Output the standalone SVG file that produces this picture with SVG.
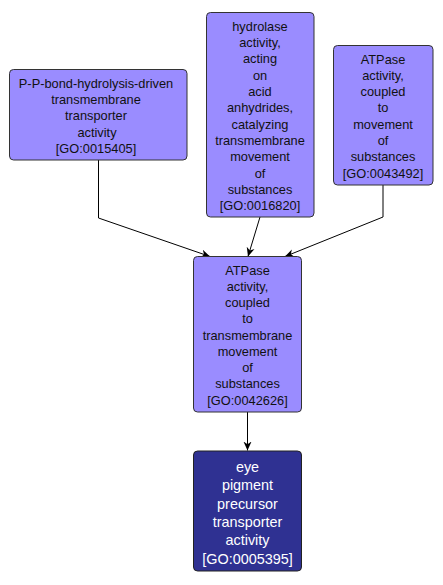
<svg xmlns="http://www.w3.org/2000/svg" width="443" height="585" viewBox="0 0 443 585">
<style>
.bg{fill:#ffffff}
.n rect{fill:#9a8cff;stroke:#333333;stroke-width:1}
.n text{font-family:"Liberation Sans",Arial,sans-serif;font-size:12.8px;fill:#111111;text-anchor:middle}
.d rect{fill:#2f3192;stroke:#222222;stroke-width:1}
.d text{font-family:"Liberation Sans",Arial,sans-serif;font-size:14.4px;fill:#ffffff;text-anchor:middle}
.e{fill:none;stroke:#000000;stroke-width:1}
</style>
<defs>
<marker id="arr" viewBox="0 0 10 10" refX="10" refY="5" markerWidth="9" markerHeight="9" markerUnits="userSpaceOnUse" orient="auto">
<path d="M0,0.5 L10,5 L0,9.5 L3,5 Z" fill="#000000"/>
</marker>
</defs>
<rect class="bg" x="0" y="0" width="443" height="585"/>
<g id="edges">
<path class="e" d="M98.5,160 L98.5,218 L210,256.5" marker-end="url(#arr)"/>
<path class="e" d="M260,217 L248,256.5" marker-end="url(#arr)"/>
<path class="e" d="M383,185 L383,217 L285,256.5" marker-end="url(#arr)"/>
<path class="e" d="M247.5,412 L247.5,450.5" marker-end="url(#arr)"/>
</g>
<g id="GO0015405" class="n">
<rect x="9.5" y="69.5" width="177.5" height="90.5" rx="4"/>
<text x="96" y="88">P-P-bond-hydrolysis-driven</text>
<text x="96" y="104.2">transmembrane</text>
<text x="96" y="120.4">transporter</text>
<text x="97" y="136.6">activity</text>
<text x="96" y="152.8">[GO:0015405]</text>
</g>
<g id="GO0016820" class="n">
<rect x="206.5" y="12.5" width="107.5" height="204.5" rx="4"/>
<text x="260" y="30.5">hydrolase</text>
<text x="260" y="46.9">activity,</text>
<text x="260" y="63.2">acting</text>
<text x="260" y="79.5">on</text>
<text x="260" y="95.9">acid</text>
<text x="260" y="112.2">anhydrides,</text>
<text x="260" y="128.6">catalyzing</text>
<text x="260" y="145">transmembrane</text>
<text x="260" y="161.3">movement</text>
<text x="260" y="177.7">of</text>
<text x="260" y="194">substances</text>
<text x="260" y="210.4">[GO:0016820]</text>
</g>
<g id="GO0043492" class="n">
<rect x="333.5" y="45.5" width="99.5" height="139.5" rx="4"/>
<text x="383" y="63.5">ATPase</text>
<text x="383" y="79.8">activity,</text>
<text x="383" y="96.1">coupled</text>
<text x="383" y="112.4">to</text>
<text x="383" y="128.7">movement</text>
<text x="383" y="145">of</text>
<text x="383" y="161.3">substances</text>
<text x="383" y="177.6">[GO:0043492]</text>
</g>
<g id="GO0042626" class="n">
<rect x="193.5" y="256.5" width="108" height="155.5" rx="4"/>
<text x="247.5" y="274.5">ATPase</text>
<text x="247.5" y="290.8">activity,</text>
<text x="247.5" y="307">coupled</text>
<text x="247.5" y="323.3">to</text>
<text x="247.5" y="339.5">transmembrane</text>
<text x="247.5" y="355.8">movement</text>
<text x="247.5" y="372">of</text>
<text x="247.5" y="388.3">substances</text>
<text x="247.5" y="404.5">[GO:0042626]</text>
</g>
<g id="GO0005395" class="d">
<rect x="193.5" y="451" width="108" height="120" rx="4"/>
<text x="247.5" y="472">eye</text>
<text x="247.5" y="490.3">pigment</text>
<text x="247.5" y="508.6">precursor</text>
<text x="247.5" y="526.9">transporter</text>
<text x="247.5" y="545.2">activity</text>
<text x="247.5" y="563.5">[GO:0005395]</text>
</g>
</svg>
